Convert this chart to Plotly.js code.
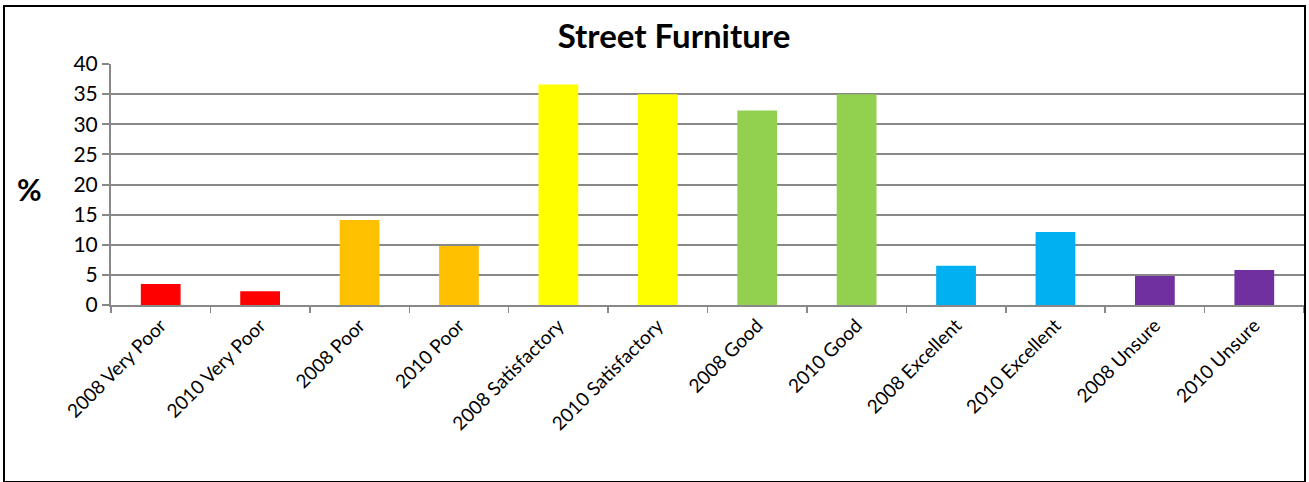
<!DOCTYPE html>
<html>
<head>
<meta charset="utf-8">
<script src="https://cdn.plot.ly/plotly-3.0.1.min.js"></script>
<style>
html,body{margin:0;padding:0;background:#fff;}
#frame{position:absolute;left:3px;top:5px;width:1303px;height:478px;box-sizing:border-box;border:2px solid #000;}
#chart{width:1299px;height:474px;}
</style>
</head>
<body>
<div id="frame"><div id="chart"></div></div>
<script>
const categories = ["2008 Very Poor","2010 Very Poor","2008 Poor","2010 Poor","2008 Satisfactory","2010 Satisfactory","2008 Good","2010 Good","2008 Excellent","2010 Excellent","2008 Unsure","2010 Unsure"];
const values = [3.5, 2.3, 14.1, 9.8, 36.6, 35.0, 32.3, 35.0, 6.5, 12.1, 4.8, 5.8];
const colors = ["#FF0000","#FF0000","#FFC000","#FFC000","#FFFF00","#FFFF00","#92D050","#92D050","#00B0F0","#00B0F0","#7030A0","#7030A0"];
const yTicks = [0,5,10,15,20,25,30,35,40];

const font = "Lato, Calibri, 'Liberation Sans', sans-serif";
Plotly.newPlot("chart", [{
  type: "bar",
  x: categories,
  y: values,
  marker: {color: colors, line: {width: 0}},
  hoverinfo: "x+y"
}], {
  width: 1299, height: 474,
  margin: {l: 106, r: 0, t: 57, b: 176},
  paper_bgcolor: "#fff", plot_bgcolor: "#fff",
  bargap: 0.6,
  showlegend: false,
  title: {text: "<b>Street Furniture</b>", font: {family: font, size: 33, color: "#000"}, x: 0.515, xanchor: "center", y: 0.938, yanchor: "middle"},
  xaxis: {
    type: "category",
    tickangle: -45,
    tickson: "boundaries",
    ticks: "outside", ticklen: 6, tickwidth: 1.5, tickcolor: "#888",
    showline: true, linecolor: "#888", linewidth: 2,
    showgrid: false,
    tickfont: {family: font, size: 19, color: "#000"}
  },
  yaxis: {
    range: [0, 40],
    tickvals: yTicks,
    ticktext: yTicks.map(String),
    ticks: "outside", ticklen: 7, tickwidth: 2, tickcolor: "#888",
    showline: true, linecolor: "#888", linewidth: 2,
    showgrid: true, gridcolor: "#888888", gridwidth: 2,
    zeroline: false,
    tickfont: {family: font, size: 21, color: "#000"}
  },
  annotations: [{
    text: "<b>%</b>", xref: "paper", yref: "paper", x: -0.068, y: 0.48,
    xanchor: "center", yanchor: "middle", showarrow: false,
    font: {family: font, size: 30, color: "#000"}
  }]
}, {displayModeBar: false, staticPlot: true});
</script>
</body>
</html>
